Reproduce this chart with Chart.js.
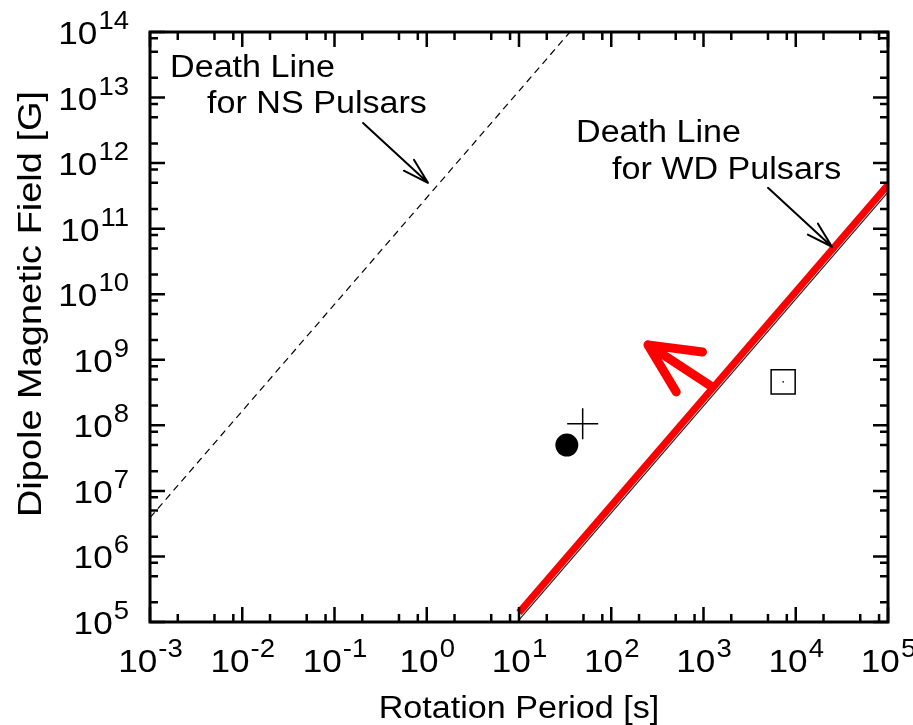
<!DOCTYPE html>
<html>
<head>
<meta charset="utf-8">
<script src="https://cdn.jsdelivr.net/npm/chart.js@4.4.1/dist/chart.umd.min.js"></script>
<style>
  body { margin: 0; background: #fff; }
  canvas { display: block; }
</style>
</head>
<body>
<canvas id="myChart" width="913" height="725"></canvas>
<script>
// tick labels are 10^n
var xExps = [-3, -2, -1, 0, 1, 2, 3, 4, 5];
var yExps = [5, 6, 7, 8, 9, 10, 11, 12, 13, 14];
var minorSteps = [2, 5, 8];

// death lines  (period [s], field [G])
var nsLineP = [1e-3, 35.7];
var nsLineB = [3.9e6, 1e14];
var wdLineP = [10, 1e5];
var wdLineB = [1.39e5, 4.66e11];
var wdEdgeB = [1.08e5, 3.6e11];   // thin black line under the red one

// objects
var circleP = [33],   circleB = [5.0e7];
var plusP   = [49],   plusB   = [1.06e8];
var squareP = [7300], squareB = [4.6e8];

// arrows: tailP, tailB, tipP, tipB
var nsArrow  = [0.204, 4.1e12, 1.03, 5.0e11];
var wdArrow  = [5000, 4.2e11, 24700, 5.3e10];
var redArrow = [1236, 3.87e8, 250, 1.69e9];

// labels (first line position, second line)
var nsText = ['Death Line', 'for NS Pulsars'];
var nsTextAt = [1.65e-3, 2.06e13];
var wdText = ['Death Line', 'for WD Pulsars'];
var wdTextAt = [41.5, 2.1e12];

var FONT = '"Liberation Sans", Arial, sans-serif';
var SX = 1.1;   // text in the original is a bit wide

function pts(ps, bs) {
    return ps.map(function (p, i) { return { x: p, y: bs[i] }; });
}

// draws text stretched horizontally
function wideText(ctx, txt, x, y, align, size) {
    ctx.font = size + 'px ' + FONT;
    var w = ctx.measureText(txt).width * SX;
    var left = align === 'center' ? x - w / 2 : (align === 'right' ? x - w : x);
    ctx.save();
    ctx.translate(left, y);
    ctx.scale(SX, 1);
    ctx.textAlign = 'left';
    ctx.textBaseline = 'alphabetic';
    ctx.fillText(txt, 0, 0);
    ctx.restore();
    return w;
}

function drawArrow(ctx, x1, y1, x2, y2, len, ang, lw, color) {
    var a = Math.atan2(y1 - y2, x1 - x2);
    ctx.save();
    ctx.strokeStyle = color;
    ctx.lineWidth = lw;
    ctx.lineCap = 'round';
    ctx.lineJoin = 'round';
    ctx.beginPath();
    ctx.moveTo(x1, y1);
    ctx.lineTo(x2, y2);
    ctx.moveTo(x2 + len * Math.cos(a - ang), y2 + len * Math.sin(a - ang));
    ctx.lineTo(x2, y2);
    ctx.lineTo(x2 + len * Math.cos(a + ang), y2 + len * Math.sin(a + ang));
    ctx.stroke();
    ctx.restore();
}

function powLabel(ctx, exp, x, y, align) {
    var e = String(exp);
    ctx.font = '32px ' + FONT;
    var w1 = ctx.measureText('10').width * SX;
    ctx.font = '25px ' + FONT;
    var w2 = ctx.measureText(e).width * SX;
    var left = align === 'right' ? x - w1 - w2 : x - (w1 + w2) / 2;
    wideText(ctx, '10', left, y, 'left', 32);
    wideText(ctx, e, left + w1 + 1, y - 15, 'left', 25);
}

var framePlugin = {
    id: 'frame',
    afterDraw: function (chart) {
        var ctx = chart.ctx;
        var a = chart.chartArea;
        var xs = chart.scales.x, ys = chart.scales.y;
        ctx.save();
        ctx.fillStyle = '#000';
        ctx.strokeStyle = '#000';

        // ticks, inward on all four sides
        ctx.lineWidth = 2.5;
        ctx.beginPath();
        xExps.forEach(function (n) {
            var px = xs.getPixelForValue(Math.pow(10, n));
            ctx.moveTo(px, a.bottom); ctx.lineTo(px, a.bottom - 15);
            ctx.moveTo(px, a.top); ctx.lineTo(px, a.top + 15);
            if (n < xExps[xExps.length - 1]) {
                minorSteps.forEach(function (m) {
                    var q = xs.getPixelForValue(m * Math.pow(10, n));
                    ctx.moveTo(q, a.bottom); ctx.lineTo(q, a.bottom - 8);
                    ctx.moveTo(q, a.top); ctx.lineTo(q, a.top + 8);
                });
            }
        });
        yExps.forEach(function (n) {
            var py = ys.getPixelForValue(Math.pow(10, n));
            ctx.moveTo(a.left, py); ctx.lineTo(a.left + 15, py);
            ctx.moveTo(a.right, py); ctx.lineTo(a.right - 15, py);
            if (n < yExps[yExps.length - 1]) {
                minorSteps.forEach(function (m) {
                    var q = ys.getPixelForValue(m * Math.pow(10, n));
                    ctx.moveTo(a.left, q); ctx.lineTo(a.left + 8, q);
                    ctx.moveTo(a.right, q); ctx.lineTo(a.right - 8, q);
                });
            }
        });
        ctx.stroke();

        // frame
        ctx.lineWidth = 3;
        ctx.strokeRect(a.left, a.top, a.right - a.left, a.bottom - a.top);

        // tick labels
        xExps.forEach(function (n) {
            powLabel(ctx, n, xs.getPixelForValue(Math.pow(10, n)), a.bottom + 50, 'center');
        });
        yExps.forEach(function (n) {
            powLabel(ctx, n, a.left - 22, ys.getPixelForValue(Math.pow(10, n)) + 12, 'right');
        });

        // axis titles
        wideText(ctx, 'Rotation Period [s]', (a.left + a.right) / 2, 718, 'center', 31);
        ctx.save();
        ctx.translate(41, 304);
        ctx.rotate(-Math.PI / 2);
        ctx.font = '33px ' + FONT;
        ctx.scale(1.15, 1);
        ctx.textAlign = 'center';
        ctx.fillText('Dipole Magnetic Field [G]', 0, 0);
        ctx.restore();

        // annotations
        var tx = xs.getPixelForValue(nsTextAt[0]), ty = ys.getPixelForValue(nsTextAt[1]);
        wideText(ctx, nsText[0], tx, ty, 'left', 31);
        wideText(ctx, nsText[1], tx + 37, ty + 36, 'left', 31);
        tx = xs.getPixelForValue(wdTextAt[0]); ty = ys.getPixelForValue(wdTextAt[1]);
        wideText(ctx, wdText[0], tx, ty, 'left', 31);
        wideText(ctx, wdText[1], tx + 36, ty + 37, 'left', 31);

        [[nsArrow, 27, 0.28, 2, '#000'], [wdArrow, 27, 0.28, 2, '#000'],
         [redArrow, 55, 0.45, 9, '#ff0000']].forEach(function (d) {
            var v = d[0];
            drawArrow(ctx, xs.getPixelForValue(v[0]), ys.getPixelForValue(v[1]),
                xs.getPixelForValue(v[2]), ys.getPixelForValue(v[3]), d[1], d[2], d[3], d[4]);
        });
        ctx.restore();
    }
};

var chartArea = document.getElementById('myChart').getContext('2d');

var myChart = new Chart(chartArea, {
    type: 'scatter',
    data: {
        datasets: [{
            label: 'WD death line',
            data: pts(wdLineP, wdLineB),
            showLine: true,
            borderColor: '#ff0000',
            borderWidth: 7,
            pointRadius: 0
        }, {
            label: 'WD death line edge',
            data: pts(wdLineP, wdEdgeB),
            showLine: true,
            borderColor: '#222',
            borderWidth: 1.2,
            pointRadius: 0
        }, {
            label: 'NS death line',
            data: pts(nsLineP, nsLineB),
            showLine: true,
            borderColor: '#000',
            borderWidth: 1.2,
            borderDash: [7, 5],
            pointRadius: 0
        }, {
            label: 'circle',
            data: pts(circleP, circleB),
            pointStyle: 'circle',
            pointRadius: 11.5,
            backgroundColor: '#000',
            borderColor: '#000',
            borderWidth: 0
        }, {
            label: 'plus',
            data: pts(plusP, plusB),
            pointStyle: 'cross',
            pointRadius: 15.5,
            borderColor: '#000',
            borderWidth: 1.5
        }, {
            label: 'square',
            data: pts(squareP, squareB),
            pointStyle: 'rect',
            pointRadius: 17,
            backgroundColor: 'rgba(0,0,0,0)',
            borderColor: '#000',
            borderWidth: 1.5
        }, {
            label: 'square dot',
            data: pts(squareP, squareB),
            pointStyle: 'circle',
            pointRadius: 0.8,
            backgroundColor: '#000',
            borderWidth: 0
        }]
    },
    options: {
        responsive: false,
        animation: false,
        devicePixelRatio: 1,
        layout: { padding: { left: 150, top: 32, right: 25, bottom: 103 } },
        plugins: {
            legend: { display: false },
            tooltip: { enabled: false }
        },
        scales: {
            x: { type: 'logarithmic', display: false, min: 1e-3, max: 1e5 },
            y: { type: 'logarithmic', display: false, min: 1e5, max: 1e14 }
        }
    },
    plugins: [framePlugin]
});
</script>
</body>
</html>
